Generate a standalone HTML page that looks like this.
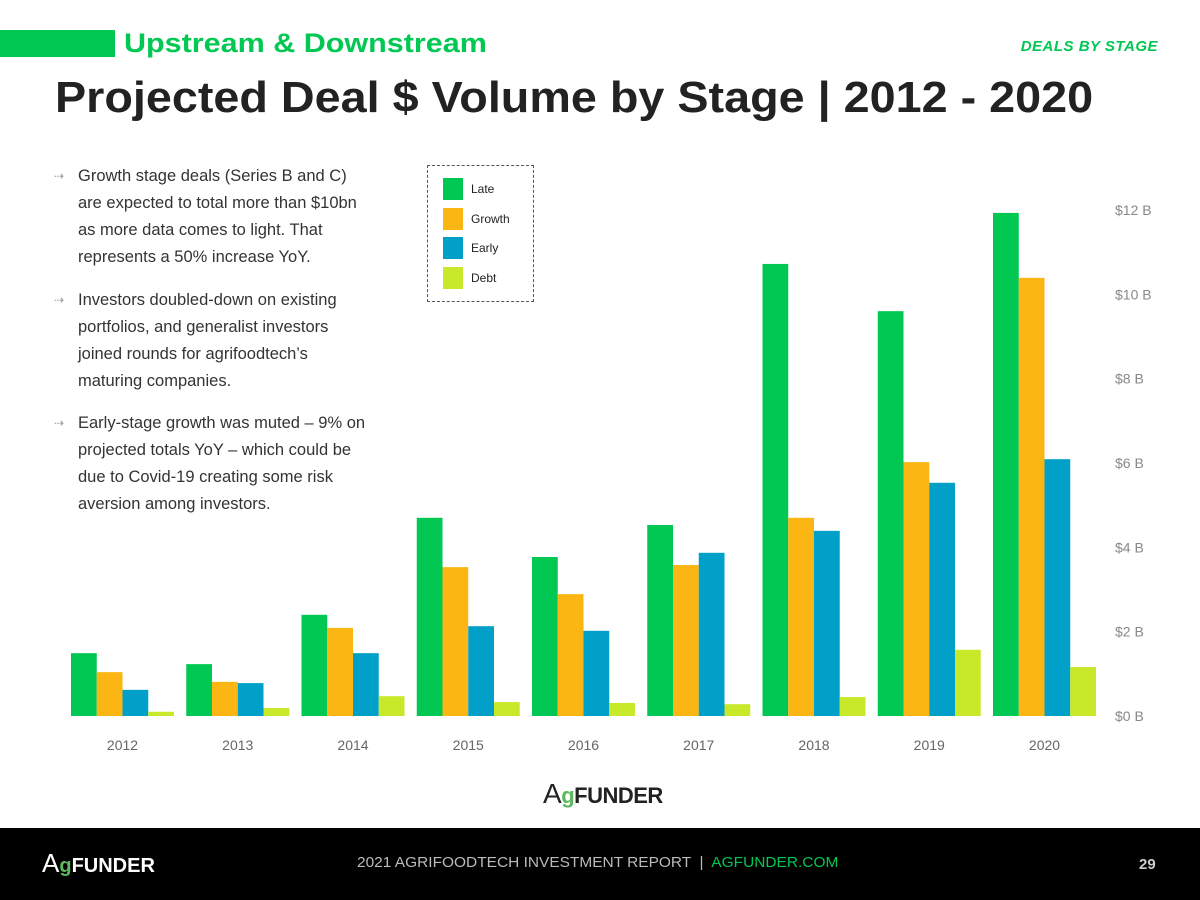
<!DOCTYPE html>
<html><head><meta charset="utf-8">
<style>
body{margin:0;width:1200px;height:900px;position:relative;background:#fff;font-family:"Liberation Sans",sans-serif;overflow:hidden}
.abs{position:absolute}
.para{position:absolute;left:78px;width:330px;font-size:16.5px;line-height:27px;color:#333;white-space:nowrap}
.arrow{position:absolute;left:-24px;color:#999;font-size:12px}
</style></head><body>
<div class="abs" style="left:0;top:30px;width:115px;height:27px;background:#00c853"></div>
<div class="abs" style="left:124px;top:26px;font-size:27px;font-weight:bold;color:#00c853;line-height:34px;transform:scaleX(1.13);transform-origin:left top">Upstream &amp; Downstream</div>
<div class="abs" style="right:42px;top:38px;font-size:15px;font-weight:bold;font-style:italic;color:#00c853;letter-spacing:0.5px">DEALS BY STAGE</div>
<div class="abs" style="left:55px;top:72px;font-size:44px;font-weight:bold;color:#222;line-height:52px;white-space:nowrap;transform:scaleX(1.062);transform-origin:left top">Projected Deal $ Volume by Stage | 2012 - 2020</div>

<div class="para" style="top:163px"><span class="arrow">⇢</span>Growth stage deals (Series B and C)<br>are expected to total more than $10bn<br>as more data comes to light. That<br>represents a 50% increase YoY.</div>
<div class="para" style="top:287px"><span class="arrow">⇢</span>Investors doubled-down on existing<br>portfolios, and generalist investors<br>joined rounds for agrifoodtech’s<br>maturing companies.</div>
<div class="para" style="top:410px"><span class="arrow">⇢</span>Early-stage growth was muted – 9% on<br>projected totals YoY – which could be<br>due to Covid-19 creating some risk<br>aversion among investors.</div>

<div class="abs" style="left:427px;top:165px;width:107px;height:137px;border:1px dashed #555;box-sizing:border-box">
 <div id="leg"></div>
</div>

<svg class="abs" style="left:0;top:0" width="1200" height="830" id="chart"></svg>

<div class="abs" style="left:543px;top:778px;font-size:22px;color:#222;font-weight:bold;letter-spacing:-0.5px"><span style="font-size:28px;font-weight:normal">A</span><span style="color:#5cb85c">g</span>FUNDER</div>

<div class="abs" style="left:0;top:828px;width:1200px;height:72px;background:#000">
 <div class="abs" style="left:42px;top:20px;font-size:20px;color:#fff;font-weight:bold"><span style="font-size:26px;font-weight:normal">A</span><span style="color:#5cb85c">g</span>FUNDER</div>
 <div class="abs" style="left:357px;top:26px;font-size:15px;color:#bbb;white-space:nowrap;transform:scaleX(1.03);transform-origin:left top">2021 AGRIFOODTECH INVESTMENT REPORT &nbsp;|&nbsp; <span style="color:#00c853">AGFUNDER.COM</span></div>
 <div class="abs" style="left:1139px;top:28px;font-size:15px;color:#ccc;font-weight:bold">29</div>
</div>

<script>
const years=["2012","2013","2014","2015","2016","2017","2018","2019","2020"];
const late=[1.49,1.23,2.4,4.7,3.77,4.53,10.72,9.6,11.93];
const growth=[1.04,0.81,2.09,3.53,2.89,3.58,4.7,6.02,10.39];
const early=[0.62,0.78,1.49,2.13,2.02,3.87,4.39,5.53,6.09];
const debt=[0.1,0.19,0.47,0.33,0.31,0.28,0.45,1.57,1.16];
const ticks=[0,2,4,6,8,10,12];
const tickLabels=["$0 B","$2 B","$4 B","$6 B","$8 B","$10 B","$12 B"];
const seriesNames=["Late","Growth","Early","Debt"];
const colors=["#00c853","#fbb614","#00a0c8","#c8e82a"];
const series=[late,growth,early,debt];
const NS="http://www.w3.org/2000/svg";
const svg=document.getElementById('chart');
const y=v=>716-v*42.17;
const xc=i=>122.5+i*115.25;
const bw=25.75;
function mk(t,a){const e=document.createElementNS(NS,t);for(const k in a)e.setAttribute(k,a[k]);svg.appendChild(e);return e;}
ticks.forEach((t,i)=>{
 const tx=mk('text',{x:1115,y:y(t)+5,'font-size':14,fill:'#888','font-family':'Liberation Sans, sans-serif'});
 
 
 tx.textContent=tickLabels[i];
});
series.forEach((s,si)=>{
 s.forEach((v,i)=>{
  const r=mk('rect',{x:xc(i)-2*bw+si*bw,y:y(v),width:bw,height:716-y(v),fill:colors[si]});
  
  
 });
});
years.forEach((yr,i)=>{
 const tx=mk('text',{x:xc(i),y:750,'font-size':14,fill:'#666','text-anchor':'middle','font-family':'Liberation Sans, sans-serif'});
 
 
 tx.textContent=yr;
});
const leg=document.getElementById('leg');
seriesNames.forEach((n,i)=>{
 const d=document.createElement('div');
 
 
 d.style.cssText='position:absolute;left:15px;top:'+(12+i*29.5)+'px;height:22px;display:flex;align-items:center;font-size:12px;color:#222';
 d.innerHTML='<span style="display:inline-block;width:20px;height:22px;background:'+colors[i]+';margin-right:8px"></span>'+n;
 leg.appendChild(d);
});
</script>
</body></html>
